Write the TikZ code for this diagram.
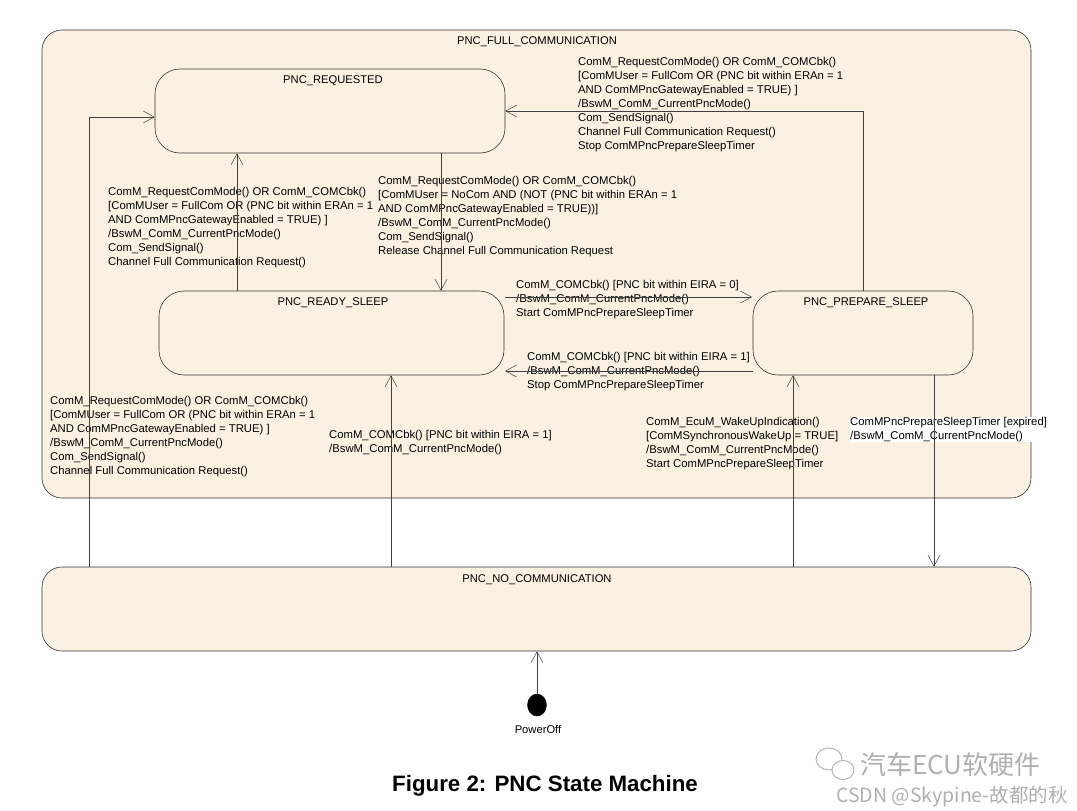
\documentclass[tikz,border=0pt]{standalone}
\usepackage{fontspec}
\setmainfont{Liberation Sans}
\newfontfamily\cjkfont{Noto Sans CJK SC}
\usetikzlibrary{arrows.meta,shapes.geometric}
\definecolor{pncfill}{RGB}{251,241,227}
\definecolor{wmgray}{RGB}{175,175,175}
\tikzset{
  st/.style={draw=black!80, fill=pncfill, rounded corners=25pt, line width=0.6pt, inner sep=0pt},
  lab/.style={font=\fontsize{11.3}{14.1}\selectfont, align=left, anchor=north west, inner sep=0pt},
  ttl/.style={font=\fontsize{11.2}{13}\selectfont, inner sep=0pt},
  tr/.style={draw=black!75, line width=0.5pt, -{Straight Barb[length=11pt,width=12pt,line width=0.5pt]}},
  wmbubble/.style={draw=wmgray, line width=0.9pt, fill=white},
}
\begin{document}
\begin{tikzpicture}[x=1pt,y=-1pt]
\useasboundingbox (0,0) rectangle (1077,811);
% states
\node[st, rounded corners=20pt, minimum width=989pt, minimum height=468pt] (full) at (536.5,264) {};
\node[st, minimum width=350pt, minimum height=84pt] (req) at (330,111) {};
\node[st, minimum width=345pt, minimum height=84pt] (ready) at (331.5,333) {};
\node[st, minimum width=220pt, minimum height=84pt] (prep) at (863,333) {};
\node[st, rounded corners=20pt, minimum width=989pt, minimum height=84pt] (nocom) at (536.5,609) {};
\node[ellipse, fill=black, draw=black, minimum width=19pt, minimum height=22pt, inner sep=0pt] (init) at (537,705) {};
% titles
\node[ttl] (fullT) at (537,42) {PNC\_FULL\_COMMUNICATION};
\node[ttl] (reqT) at (333,80.5) {PNC\_REQUESTED};
\node[ttl] (readyT) at (333,302.5) {PNC\_READY\_SLEEP};
\node[ttl] (prepT) at (866,302.5) {PNC\_PREPARE\_SLEEP};
\node[ttl] (nocomT) at (537,579.5) {PNC\_NO\_COMMUNICATION};
\node[ttl] (initT) at (538,729.5) {PowerOff};
% labels
\node[lab] (l4) at (578,57) {ComM\_RequestComMode() OR ComM\_COMCbk()\\
{[}ComMUser = FullCom OR (PNC bit within ERAn = 1\\
AND ComMPncGatewayEnabled = TRUE) ]\\
/BswM\_ComM\_CurrentPncMode()\\
Com\_SendSignal()\\
Channel Full Communication Request()\\
Stop ComMPncPrepareSleepTimer};
\node[lab] (l3) at (378,176) {ComM\_RequestComMode() OR ComM\_COMCbk()\\
{[}ComMUser = NoCom AND (NOT (PNC bit within ERAn = 1\\
AND ComMPncGatewayEnabled = TRUE))]\\
/BswM\_ComM\_CurrentPncMode()\\
Com\_SendSignal()\\
Release Channel Full Communication Request};
\node[lab] (l2) at (108,187) {ComM\_RequestComMode() OR ComM\_COMCbk()\\
{[}ComMUser = FullCom OR (PNC bit within ERAn = 1\\
AND ComMPncGatewayEnabled = TRUE) ]\\
/BswM\_ComM\_CurrentPncMode()\\
Com\_SendSignal()\\
Channel Full Communication Request()};
\node[lab] (l1) at (50,396) {ComM\_RequestComMode() OR ComM\_COMCbk()\\
{[}ComMUser = FullCom OR (PNC bit within ERAn = 1\\
AND ComMPncGatewayEnabled = TRUE) ]\\
/BswM\_ComM\_CurrentPncMode()\\
Com\_SendSignal()\\
Channel Full Communication Request()};
\node[lab] (l5) at (516,280) {ComM\_COMCbk() [PNC bit within EIRA = 0]\\
/BswM\_ComM\_CurrentPncMode()\\
Start ComMPncPrepareSleepTimer};
\node[lab] (l6) at (527,352) {ComM\_COMCbk() [PNC bit within EIRA = 1]\\
/BswM\_ComM\_CurrentPncMode()\\
Stop ComMPncPrepareSleepTimer};
\node[lab] (l7) at (329,430) {ComM\_COMCbk() [PNC bit within EIRA = 1]\\
/BswM\_ComM\_CurrentPncMode()};
\node[lab] (l8) at (646,417) {ComM\_EcuM\_WakeUpIndication()\\
{[}ComMSynchronousWakeUp = TRUE]\\
/BswM\_ComM\_CurrentPncMode()\\
Start ComMPncPrepareSleepTimer};
\node[lab, fill=white] (l9) at (850,417) {ComMPncPrepareSleepTimer [expired]\\
/BswM\_ComM\_CurrentPncMode()};
% transitions
\draw[tr] (89,0 |- nocom.north) |- ([yshift=-6pt]req.west);
\draw[tr] (237,0 |- ready.north) -- (237,0 |- req.south);
\draw[tr] (441,0 |- req.south) -- (441,0 |- ready.north);
\draw[tr] (863,0 |- prep.north) |- (req.east);
\draw[tr] (505,0 |- 0,297) -- (752,0 |- 0,297);
\draw[tr] (prep.west |- 0,371) -- (505,0 |- 0,371);
\draw[tr] (391,0 |- nocom.north) -- (391,0 |- ready.south);
\draw[tr] (793,0 |- nocom.north) -- (793,0 |- prep.south);
\draw[tr] (934,0 |- prep.south) -- (934,0 |- nocom.north);
\draw[tr] (init) -- (nocom.south -| init);
% caption
\node[font=\fontsize{22.3}{26}\selectfont\bfseries, inner sep=0pt] (cap) at (545,786) {Figure 2: PNC State Machine};
% watermark
\node[wmbubble, ellipse, minimum width=26pt, minimum height=22pt, inner sep=0pt] (wb1) at (829,759) {};
\node[wmbubble, ellipse, minimum width=22pt, minimum height=19pt, inner sep=0pt] (wb2) at (843,770) {};
\node[font=\cjkfont\fontsize{26}{30}\selectfont, text=wmgray, anchor=west, inner sep=0pt] (wm1) at (860,765) {汽车ECU软硬件};
\node[font=\cjkfont\fontsize{19.5}{22}\selectfont, text=wmgray, anchor=west, inner sep=0pt] (wm2) at (836,797) {CSDN @Skypine-故都的秋};
\end{tikzpicture}
\end{document}
